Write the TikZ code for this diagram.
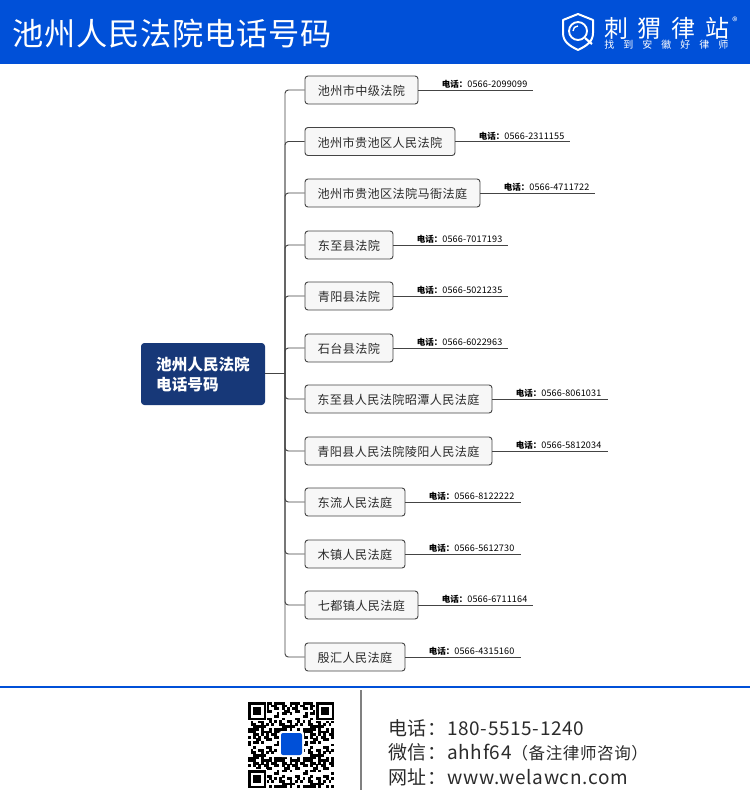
\documentclass[tikz,border=0pt]{standalone}
\usepackage{fontspec}
\setmainfont{Noto Sans CJK SC}
\definecolor{headblue}{HTML}{0050D8}
\definecolor{rootblue}{HTML}{173878}
\definecolor{boxgray}{HTML}{F7F7F7}
\definecolor{linegray}{HTML}{444444}
\definecolor{footgray}{HTML}{2B2B2B}
\tikzset{
  branch/.style={draw=linegray,line width=0.7pt,fill=boxgray,rounded corners=2.2pt,minimum height=21pt,inner sep=0pt,font=\fontsize{9.1pt}{11pt}\selectfont\addfontfeatures{LetterSpace=3},text=footgray},
  rootbox/.style={fill=rootblue,rounded corners=2.5pt,minimum width=93pt,minimum height=46.5pt,inner sep=0pt,text=white,align=left,font=\fontsize{11.7pt}{15pt}\selectfont\bfseries},
  phone/.style={anchor=south west,inner sep=0pt,yshift=0.8pt,text=black},
  conn/.style={draw=linegray,line width=0.7pt},
  foot/.style={anchor=west,inner sep=0pt,text=footgray,font=\fontsize{14.25pt}{16pt}\selectfont\addfontfeatures{LetterSpace=3.5}}
}
\begin{document}
\begin{tikzpicture}[x=0.75pt,y=-0.75pt]
\useasboundingbox (0,0) rectangle (750,800);
\fill[headblue] (0,0) rectangle (750,64);
\node[anchor=west,inner sep=0pt,text=white,font=\fontsize{23.4pt}{26pt}\selectfont\addfontfeatures{LetterSpace=2.5}] (title) at (12,34) {池州人民法院电话号码};
\draw[white,line width=1.5pt,line join=round] (578,14) -- (593,20) -- (593,33) .. controls (593,42) and (586,46) .. (578,50) .. controls (570,46) and (563,42) .. (563,33) -- (563,20) -- cycle;
\draw[white,line width=1.4pt] (578,31) circle (9);
\draw[white,line width=1pt] (573,31) .. controls (573,28) and (575,26) .. (578,26);
\draw[white,line width=1.6pt] (585,38) -- (592,44);
\node[anchor=west,inner sep=0pt,text=white,font=\fontsize{18pt}{20pt}\selectfont\addfontfeatures{LetterSpace=40}] (brand) at (604,28) {刺猬律站};
\node[anchor=west,inner sep=0pt,text=white,font=\fontsize{7.5pt}{9pt}\selectfont\addfontfeatures{LetterSpace=90}] (slogan) at (604,45) {找到安徽好律师};
\node[inner sep=0pt,text=white,font=\fontsize{8pt}{9pt}\selectfont] (reg) at (735,21) {®};

\node[rootbox] (root) at (203,374) {池州人民法院\\电话号码};
\coordinate (trunk) at (285,373);
\draw[conn] (root.east |- trunk) -- (trunk);
\foreach \i/\r/\y/\e/\t/\p in {
  1/418/90/533/池州市中级法院/0566-2099099,
  2/455/141.5/570/池州市贵池区人民法院/0566-2311155,
  3/480/193/595/池州市贵池区法院马衙法庭/0566-4711722,
  4/393/245/508/东至县法院/0566-7017193,
  5/393/296/508/青阳县法院/0566-5021235,
  6/393/348/508/石台县法院/0566-6022963,
  7/492/399/608/东至县人民法院昭潭人民法庭/0566-8061031,
  8/492/451/608/青阳县人民法院陵阳人民法庭/0566-5812034,
  9/405/502/521/东流人民法庭/0566-8122222,
  10/405/554/521/木镇人民法庭/0566-5612730,
  11/418/605/533/七都镇人民法庭/0566-6711164,
  12/405/657/521/殷汇人民法庭/0566-4315160}
{
  \pgfmathsetmacro{\w}{(\r-305)*0.75}
  \node[branch,minimum width=\w pt] (b\i) at ({(\r+305)/2},\y) {\raisebox{-0.7pt}[\height][\depth]{\t}};
  \coordinate (e\i) at (\e,\y);
  \draw[conn,rounded corners=2.5pt] (trunk) |- (b\i.west);
  \draw[conn] (b\i.east) -- (e\i);
  \node[phone] (p\i) at (\r+23.5,\y) {\fontsize{6.4pt}{8pt}\selectfont\textbf{电话：}\fontsize{6.8pt}{8pt}\selectfont\addfontfeatures{LetterSpace=1.5}\p};
}

\draw[headblue,line width=1.5pt] (0,687) -- (750,687);
\draw[gray,line width=0.8pt] (361,690) -- (361,790);
\foreach \qi in {0,...,32}
  \foreach \qj in {0,...,32}
  {
    \pgfmathparse{int(mod(\qi*\qi*3+\qj*\qj*5+\qi*\qj*7+\qi+2*\qj,11))}
    \ifnum\pgfmathresult<5
      \fill[black] ({248+2.6*\qi},{702+2.6*\qj}) rectangle +(2.7,2.7);
    \fi
  }
\foreach \qx/\qy in {248/702,316/702,248/770}
{
  \fill[white] (\qx-1,\qy-1) rectangle +(20.2,20.2);
  \fill[black] (\qx,\qy) rectangle +(18.2,18.2);
  \fill[white] (\qx+2.6,\qy+2.6) rectangle +(13,13);
  \fill[black] (\qx+5.2,\qy+5.2) rectangle +(7.8,7.8);
}
\fill[white,rounded corners=2pt] (279,731) rectangle (304,757);
\fill[headblue,rounded corners=1.5pt] (281,733) rectangle (302,755);

\node[foot] (tel) at (388,728) {电话：180-5515-1240};
\node[foot] (wx) at (388,752) {微信：ahhf64{\fontsize{12.4pt}{14pt}\selectfont （备注律师咨询）}};
\node[foot] (web) at (388,777) {网址：www.welawcn.com};
\end{tikzpicture}
\end{document}
